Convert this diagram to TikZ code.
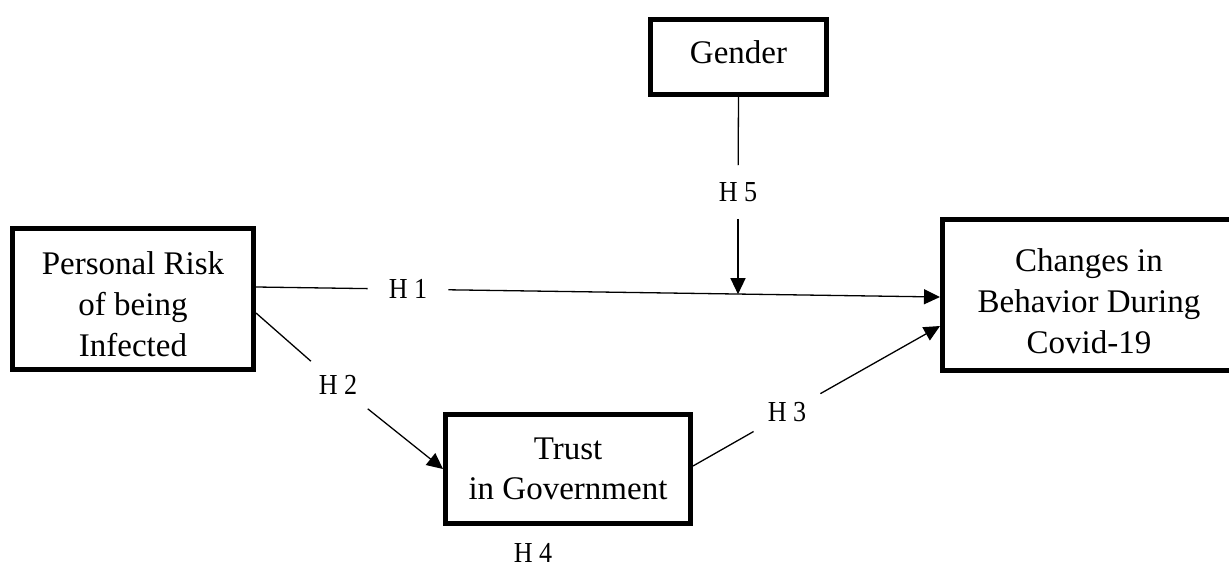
\documentclass[tikz,border=0pt]{standalone}
\usepackage{fontspec}
\setmainfont{Liberation Serif}
\usetikzlibrary{arrows.meta}
\tikzset{
  box/.style={draw, line width=5pt, inner sep=0pt, align=center,
    font=\fontsize{33}{40.5}\selectfont},
  hlab/.style={inner sep=0pt, font=\fontsize{29}{34}\selectfont},
  conn/.style={line width=1.3pt},
  arr/.style={conn, -{Triangle[length=16pt,width=15pt]}}
}
\newcommand{\lowr}[2]{\raisebox{#1}[\height][\depth]{\begin{tabular}{@{}c@{}}#2\end{tabular}}}
\newcommand{\hl}[1]{\scalebox{0.9}[1]{H #1}}
\begin{document}
\begin{tikzpicture}[x=1pt,y=-1pt]
\useasboundingbox (0,0) rectangle (1229,567);
\clip (0,0) rectangle (1229,567);
\node[box, minimum width=241pt, minimum height=141pt] (pr) at (133,299) {\lowr{-8pt}{Personal Risk\\[0.5pt] of being\\[0.5pt] Infected}};
\node[box, minimum width=176pt, minimum height=75pt] (gd) at (738.5,57) {\lowr{2pt}{Gender}};
\node[box, minimum width=245pt, minimum height=109pt] (tr) at (568,469) {Trust\\ in Government};
\node[box, minimum width=293pt, minimum height=151pt] (ch) at (1089,295) {\lowr{-9pt}{Changes in\\[0.5pt] Behavior During\\[0.5pt] Covid-19}};
\node[hlab, inner xsep=21pt, inner ysep=12pt] (h1) at (408,289.2) {\hl{1}};
\node[hlab, inner sep=14pt] (h2) at (338,385) {\hl{2}};
\node[hlab, inner xsep=14pt, inner ysep=10pt] (h3) at (787,412.5) {\hl{3}};
\node[hlab, inner sep=17pt] (h5) at (738,192) {\hl{5}};
\node[hlab] (h4) at (533,553) {\hl{4}};
\coordinate (m) at (738,294.2);
\draw[conn] ([yshift=12pt]pr.east) -- (h1);
\draw[arr] (h1) -- ([yshift=-2pt]ch.west);
\draw[conn] ([yshift=-14pt]pr.east) -- (h2);
\draw[arr] (h2) -- (tr.west);
\draw[conn] ([yshift=3pt]tr.east) -- (h3);
\draw[arr] (h3) -- ([yshift=-31pt]ch.west);
\draw[conn] (gd.south) -- (h5);
\draw[arr] (h5) -- (m);
\end{tikzpicture}
\end{document}
